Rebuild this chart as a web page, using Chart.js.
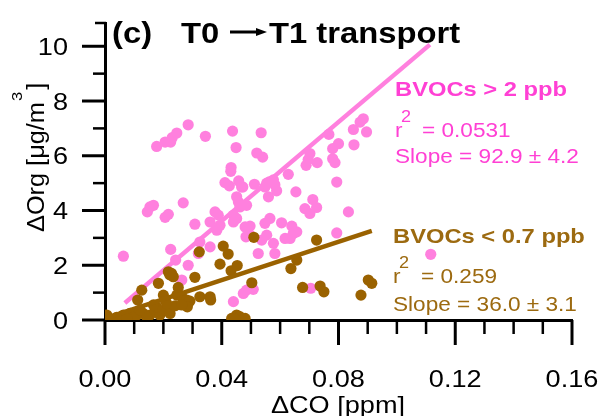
<!DOCTYPE html>
<html>
<head>
<meta charset="utf-8">
<script src="https://cdn.jsdelivr.net/npm/chart.js@4/dist/chart.umd.min.js"></script>
<style>
  html, body { margin: 0; padding: 0; background: #fff; }
  canvas { display: block; }
</style>
</head>
<body>
<canvas id="orgChart" width="605" height="416"></canvas>
<script>
/* ---------- data ---------- */
// BVOCs > 2 ppb (pink)
const pinkX = [0.0177,0.0206,0.0225,0.0230,0.0246,0.0285,0.0344,0.0437,0.0449,0.0535,0.0520,0.0540,0.0432,0.0431,0.0411,0.0426,0.0458,0.0472,0.0628,0.0689,
               0.0696,0.0702,0.0727,0.0767,0.0780,0.0800,0.0780,0.0788,0.0851,0.0874,0.0885,0.0896,0.0853,0.0794,0.0154,0.0166,0.0145,0.0268,0.0217,0.0206,
               0.0512,0.0554,0.0565,0.0577,0.0582,0.0548,0.0588,0.0560,0.0654,0.0712,0.0685,0.0702,0.0725,0.0834,0.0451,0.0457,0.0462,0.0485,0.0377,0.0388,
               0.0440,0.0451,0.0308,0.0360,0.0394,0.0497,0.0548,0.0565,0.0605,0.0640,0.0063,0.0383,0.0325,0.0320,0.0225,0.0285,0.0263,0.0242,0.0440,0.0480,
               0.0497,0.0483,0.0525,0.0537,0.0554,0.0577,0.0582,0.0617,0.0634,0.0645,0.0657,0.0794,0.0440,0.0474,0.0485,0.0508,0.0705,0.0360,0.1116,0.0468];
const pinkY = [6.34,6.50,6.50,6.66,6.83,7.13,6.71,6.90,6.30,6.84,6.10,5.95,5.57,5.43,5.02,4.90,5.08,4.86,5.32,5.65,
               5.86,6.08,5.75,6.78,6.26,6.44,5.89,5.75,6.96,7.23,7.35,6.87,6.40,5.04,4.13,4.19,3.95,4.28,3.86,3.75,
               4.96,5.00,5.06,5.12,4.94,4.86,4.72,4.50,4.68,4.40,4.07,3.89,4.11,3.95,4.50,4.31,4.13,4.19,3.95,3.83,
               3.83,3.71,3.50,3.58,3.46,3.43,3.53,3.71,3.55,3.43,2.33,3.28,2.85,2.43,2.58,2.00,1.46,2.19,3.58,3.40,
               3.10,3.04,2.43,2.92,3.10,2.80,2.43,2.98,2.98,3.16,3.22,3.18,0.67,0.97,1.09,1.12,1.16,2.67,2.40,4.86];

// BVOCs < 0.7 ppb (brown)
const brownX = [0.0006,0.0011,0.0112,0.0126,0.0183,0.0200,0.0206,0.0217,0.0228,0.0234,0.0222,0.0251,0.0308,0.0323,0.0325,0.0360,0.0362,0.0394,0.0405,0.0422,
                0.0432,0.0453,0.0503,0.0510,0.0434,0.0451,0.0462,0.0480,0.0445,0.0637,0.0657,0.0677,0.0725,0.0737,0.0750,0.0877,0.0902,0.0914,0.0246,0.0263,
                0.0280,0.0285,0.0291,0.0282,0.0063,0.0086,0.0109,0.0131,0.0154,0.0171,0.0188,0.0206,0.0223,0.0143,0.0097,0.0120,0.0240,0.0263,0.0211,0.0177,
                0.0166,0.0040,0.0075];
const brownY = [0.18,0.06,0.73,1.09,1.34,0.91,0.73,1.76,1.70,1.58,1.65,1.19,1.56,2.49,0.85,0.85,0.73,2.04,2.70,2.41,
                1.80,1.99,1.36,3.02,0.06,0.18,0.12,0.06,0.03,1.88,2.19,1.19,2.92,1.24,1.03,0.91,1.46,1.34,0.91,0.85,
                0.73,0.61,0.69,0.48,0.18,0.24,0.18,0.24,0.18,0.30,0.18,0.36,0.24,0.12,0.12,0.36,0.52,0.55,0.61,0.48,
                0.55,0.10,0.05];

// fitted lines (end points)
const pinkFitX = [0.0068, 0.1113];
const pinkFitY = [0.62, 10.06];
const brownFitX = [0.0, 0.0914];
const brownFitY = [0.06, 3.26];

// axes
const xMajor = [0, 0.04, 0.08, 0.12, 0.16];
const xLabels = ["0.00", "0.04", "0.08", "0.12", "0.16"];
const xMinor = [0.01, 0.02, 0.03, 0.05, 0.06, 0.07, 0.09, 0.10, 0.11, 0.13, 0.14, 0.15];
const yMajor = [0, 2, 4, 6, 8, 10];
const yMinor = [1, 3, 5, 7, 9];

/* ---------- style ---------- */
const PINK = "#ff80de";
const PINK_TXT = "#ff40d4";
const BROWN = "#9a6200";
const BROWN_TXT = "#9c6a10";
const FONT = '"Liberation Sans", Arial, sans-serif';
const STRETCH = 1.13;

const toPts = (xs, ys) => xs.map((x, i) => ({ x: x, y: ys[i] }));

// text helper, the figure's lettering is a bit wide
function txt(ctx, s, x, y, size, color, opts) {
    opts = opts || {};
    ctx.save();
    ctx.font = (opts.bold ? "bold " : "") + size + "px " + FONT;
    ctx.fillStyle = color;
    ctx.textAlign = opts.align || "left";
    ctx.textBaseline = "alphabetic";
    ctx.translate(x, y);
    ctx.scale(STRETCH, 1);
    ctx.fillText(s, 0, 0);
    const w = ctx.measureText(s).width * STRETCH;
    ctx.restore();
    return w;
}

/* ---------- axes, ticks and lettering ---------- */
const decorPlugin = {
    id: "decor",
    afterDraw(chart) {
        const ctx = chart.ctx;
        const xs = chart.scales.x, ys = chart.scales.y;
        const area = chart.chartArea;

        ctx.save();
        ctx.strokeStyle = "#000";
        ctx.lineCap = "butt";

        // x ticks (outside, downward)
        xMajor.forEach(v => {
            const p = xs.getPixelForValue(v);
            ctx.lineWidth = 3;
            ctx.beginPath(); ctx.moveTo(p, area.bottom); ctx.lineTo(p, area.bottom + 25); ctx.stroke();
        });
        xMinor.forEach(v => {
            const p = xs.getPixelForValue(v);
            ctx.lineWidth = 2.5;
            ctx.beginPath(); ctx.moveTo(p, area.bottom); ctx.lineTo(p, area.bottom + 14); ctx.stroke();
        });

        // y ticks (outside, to the left)
        yMajor.forEach(v => {
            const p = ys.getPixelForValue(v);
            ctx.lineWidth = 3;
            ctx.beginPath(); ctx.moveTo(area.left, p); ctx.lineTo(area.left - 23, p); ctx.stroke();
        });
        yMinor.forEach(v => {
            const p = ys.getPixelForValue(v);
            ctx.lineWidth = 2.5;
            ctx.beginPath(); ctx.moveTo(area.left, p); ctx.lineTo(area.left - 12, p); ctx.stroke();
        });
        // small cap at the top of the y axis
        ctx.lineWidth = 2.5;
        ctx.beginPath(); ctx.moveTo(area.left + 1, area.top); ctx.lineTo(area.left - 10, area.top); ctx.stroke();
        ctx.restore();

        // tick labels
        xMajor.forEach((v, i) => {
            txt(ctx, xLabels[i], xs.getPixelForValue(v), 387, 24, "#000", { align: "center" });
        });
        yMajor.forEach(v => {
            txt(ctx, String(v), 68, ys.getPixelForValue(v) + 8.7, 24, "#000", { align: "right" });
        });

        // axis titles
        txt(ctx, "\u0394CO [ppm]", 338, 413, 24, "#000", { align: "center" });

        ctx.save();
        ctx.translate(44, 232);
        ctx.rotate(-Math.PI / 2);
        ctx.fillStyle = "#000";
        ctx.textBaseline = "alphabetic";
        ctx.font = "23px " + FONT;
        ctx.scale(1.1, 1);
        const main = "\u0394Org [\u03bcg/m";
        ctx.fillText(main, 0, 0);
        let w = ctx.measureText(main).width;
        ctx.font = "15px " + FONT;
        ctx.fillText("3", w + 1, -22);
        w += ctx.measureText("3").width + 3;
        ctx.font = "23px " + FONT;
        ctx.fillText("]", w, 0);
        ctx.restore();

        // panel title
        txt(ctx, "(c)", 112, 43, 29, "#000", { bold: true });
        txt(ctx, "T0", 181, 43, 29, "#000", { bold: true });
        ctx.save();
        ctx.strokeStyle = "#000";
        ctx.fillStyle = "#000";
        ctx.lineWidth = 3;
        ctx.beginPath(); ctx.moveTo(230, 32); ctx.lineTo(258, 32); ctx.stroke();
        ctx.beginPath(); ctx.moveTo(256, 28); ctx.lineTo(267, 32); ctx.lineTo(256, 36); ctx.closePath(); ctx.fill();
        ctx.restore();
        txt(ctx, "T1 transport", 269, 43, 29, "#000", { bold: true });

        // fit annotations
        txt(ctx, "BVOCs > 2 ppb", 395, 96, 21, PINK_TXT, { bold: true });
        txt(ctx, "r", 395, 137, 20, PINK_TXT);
        txt(ctx, "2", 401, 122, 16, PINK_TXT);
        txt(ctx, "= 0.0531", 422, 137, 20, PINK_TXT);
        txt(ctx, "Slope = 92.9 \u00b1 4.2", 395, 163, 20, PINK_TXT);

        txt(ctx, "BVOCs < 0.7 ppb", 393, 243, 21, BROWN_TXT, { bold: true });
        txt(ctx, "r", 393, 283, 20, BROWN_TXT);
        txt(ctx, "2", 399, 268, 16, BROWN_TXT);
        txt(ctx, "= 0.259", 421, 283, 20, BROWN_TXT);
        txt(ctx, "Slope = 36.0 \u00b1 3.1", 393, 311, 20, BROWN_TXT);
    }
};

/* ---------- chart ---------- */
new Chart(document.getElementById("orgChart"), {
    type: "scatter",
    data: {
        datasets: [
            {
                label: "fit BVOCs < 0.7 ppb",
                data: toPts(brownFitX, brownFitY),
                showLine: true,
                borderColor: BROWN,
                borderWidth: 4.5,
                pointRadius: 0,
                order: 0
            },
            {
                label: "BVOCs < 0.7 ppb",
                data: toPts(brownX, brownY),
                backgroundColor: BROWN,
                borderWidth: 0,
                pointRadius: 5.6,
                order: 1
            },
            {
                label: "fit BVOCs > 2 ppb",
                data: toPts(pinkFitX, pinkFitY),
                showLine: true,
                borderColor: PINK,
                borderWidth: 4.5,
                pointRadius: 0,
                order: 2
            },
            {
                label: "BVOCs > 2 ppb",
                data: toPts(pinkX, pinkY),
                backgroundColor: PINK,
                borderWidth: 0,
                pointRadius: 5.6,
                order: 3
            }
        ]
    },
    options: {
        responsive: false,
        animation: false,
        layout: { padding: { top: 23, right: 33, left: 0, bottom: 0 } },
        plugins: { legend: { display: false }, tooltip: { enabled: false } },
        scales: {
            x: {
                type: "linear",
                min: 0,
                max: 0.16,
                afterFit(s) { s.height = 96; },
                ticks: { display: false },
                grid: { display: false },
                border: { display: true, color: "#000", width: 3 }
            },
            y: {
                min: 0,
                max: 10.85,
                afterFit(s) { s.width = 105; },
                ticks: { display: false },
                grid: { display: false },
                border: { display: true, color: "#000", width: 3 }
            }
        }
    },
    plugins: [decorPlugin]
});
</script>
</body>
</html>
